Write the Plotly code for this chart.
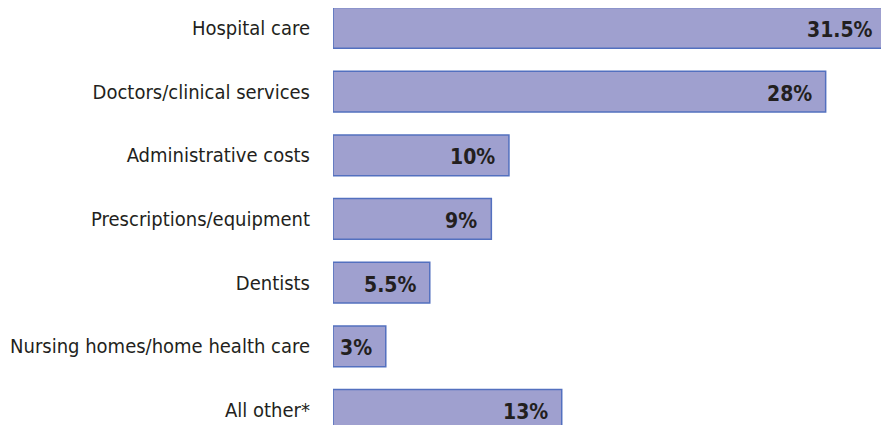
import plotly.graph_objects as go

categories = ["Hospital care", "Doctors/clinical services", "Administrative costs",
              "Prescriptions/equipment", "Dentists", "Nursing homes/home health care",
              "All other*"]
shares = [31.5, 28, 10, 9, 5.5, 3, 13]
share_labels = ["31.5%", "28%", "10%", "9%", "5.5%", "3%", "13%"]

label_font = "DejaVu Sans Condensed, Liberation Sans Narrow, sans-serif"

fig = go.Figure()
fig.add_trace(go.Bar(
    x=shares, y=categories, orientation="h",
    marker=dict(color="#9fa0cf", line=dict(color="#5370bf", width=1.5)),
    width=0.64, showlegend=False, hoverinfo="skip",
))

for cat, val, lab in zip(categories, shares, share_labels):
    fig.add_annotation(x=val, y=cat, text="<b>" + lab + "</b>", showarrow=False,
                       xanchor="right", xshift=-12, yshift=-2,
                       font=dict(family=label_font, size=21, color="#231f20"))

# page body has an 8px margin, so the figure is sized to fill the rest
fig.update_layout(
    width=881, height=417,
    margin=dict(l=325, r=0, t=0, b=0),
    plot_bgcolor="white", paper_bgcolor="white",
    xaxis=dict(range=[0, 31.6], visible=False, fixedrange=True),
    yaxis=dict(categoryorder="array", categoryarray=categories,
               range=[6.236, -0.314], showgrid=False, zeroline=False,
               showline=False, ticks="", ticklabelstandoff=22, automargin=False,
               tickfont=dict(family=label_font, size=20, color="#231f20")),
)

fig.write_html("out.html")
